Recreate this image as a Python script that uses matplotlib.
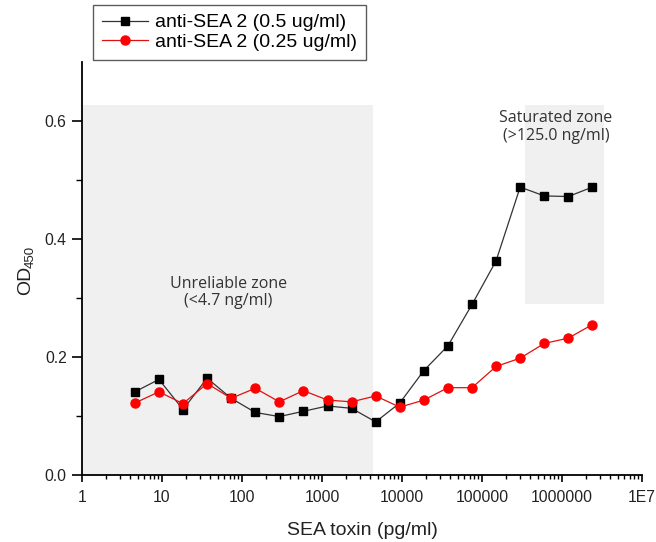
import matplotlib
matplotlib.use("Agg")
import matplotlib.pyplot as plt
from matplotlib.ticker import FixedLocator, FixedFormatter, NullFormatter

plt.rcParams['font.family'] = ['Liberation Sans', 'DejaVu Sans']

# Data
conc = [4.578, 9.155, 18.31, 36.62, 73.24, 146.5, 293.0, 585.9, 1171.9, 2343.8,
        4687.5, 9375, 18750, 37500, 75000, 150000, 300000, 600000, 1200000, 2400000]
od_05 = [0.141, 0.162, 0.111, 0.164, 0.130, 0.106, 0.099, 0.108, 0.117, 0.113,
         0.090, 0.122, 0.177, 0.219, 0.289, 0.363, 0.488, 0.473, 0.472, 0.488]
od_025 = [0.122, 0.141, 0.121, 0.155, 0.130, 0.147, 0.124, 0.143, 0.127, 0.124,
          0.134, 0.115, 0.127, 0.148, 0.148, 0.184, 0.198, 0.223, 0.232, 0.255]
series_labels = ['anti-SEA 2 (0.5 ug/ml)', 'anti-SEA 2 (0.25 ug/ml)']

xticks = [1, 10, 100, 1000, 10000, 100000, 1000000, 10000000]
xtick_labels = ['1', '10', '100', '1000', '10000', '100000', '1000000', '1E7']
yticks = [0.0, 0.2, 0.4, 0.6]
ytick_labels = ['0.0', '0.2', '0.4', '0.6']
yminor = [0.1, 0.3, 0.5]

unreliable_zone = (1, 4300, 0.0, 0.627)
saturated_zone = (3.48e5, 3.38e6, 0.29, 0.627)

W, H = 656, 542
fig = plt.figure(figsize=(6.56, 5.42), dpi=100)
ax = fig.add_axes([82/W, 67/H, 560/W, 413/H])

ax.set_xscale('log')
ax.set_xlim(1, 1e7)
ax.set_ylim(0, 0.7)

zone_color = '#f0f0f0'
ax.fill_between([unreliable_zone[0], unreliable_zone[1]], unreliable_zone[2], unreliable_zone[3],
                color=zone_color, lw=0, zorder=0)
ax.fill_between([saturated_zone[0], saturated_zone[1]], saturated_zone[2], saturated_zone[3],
                color=zone_color, lw=0, zorder=0)

ax.plot(conc, od_05, color='#333333', lw=0.9, marker='s', ms=6, mfc='black', mec='black',
        label=series_labels[0], zorder=3)
ax.plot(conc, od_025, color='#e01010', lw=0.9, marker='o', ms=6.5, mfc='#ff0000', mec='#ff0000',
        label=series_labels[1], zorder=3)

zfont = ['Open Sans', 'DejaVu Sans']
ax.text(67, 0.31, 'Unreliable zone\n(<4.7 ng/ml)', ha='center', va='center',
        fontsize=11.5, color='#333333', family=zfont, linespacing=1.1)
ax.text(8.4e5, 0.59, 'Saturated zone\n(>125.0 ng/ml)', ha='center', va='center',
        fontsize=11.5, color='#333333', family=zfont, linespacing=1.1)

ax.xaxis.set_major_locator(FixedLocator(xticks))
ax.xaxis.set_major_formatter(FixedFormatter(xtick_labels))
ax.xaxis.set_minor_formatter(NullFormatter())
ax.yaxis.set_major_locator(FixedLocator(yticks))
ax.yaxis.set_major_formatter(FixedFormatter(ytick_labels))
ax.yaxis.set_minor_locator(FixedLocator(yminor))

ax.tick_params(which='major', direction='out', width=1.2, labelsize=11.3,
               colors='black', labelcolor='#222222')
ax.tick_params(axis='x', which='major', length=5, pad=6)
ax.tick_params(axis='y', which='major', length=7, pad=4)
ax.tick_params(axis='x', which='minor', direction='out', length=3, width=1.0)
ax.tick_params(axis='y', which='minor', direction='out', length=4, width=1.0)

for s in ['top', 'right']:
    ax.spines[s].set_visible(False)
for s in ['left', 'bottom']:
    ax.spines[s].set_linewidth(1.3)

ax.set_xlabel('SEA toxin (pg/ml)', fontsize=14, labelpad=12, color='#222222')
# y label: OD with subscript 450
fig.text(26/W, 1 - 280/H, 'OD', rotation=90, ha='center', va='center', fontsize=14,
         color='#222222')
fig.text(31/W, 1 - 257/H, '450', rotation=90, ha='center', va='center', fontsize=9.5,
         color='#222222')

leg = ax.legend(loc='upper left', bbox_to_anchor=(93/W, 1 - 5/H), bbox_transform=fig.transFigure,
                borderaxespad=0, fontsize=14, frameon=True, fancybox=False, handlelength=2.4,
                handletextpad=0.35, borderpad=0.45, labelspacing=0.12)
leg.get_frame().set_edgecolor('#333333')
leg.get_frame().set_linewidth(1.0)

fig.savefig('out.png', dpi=100)
